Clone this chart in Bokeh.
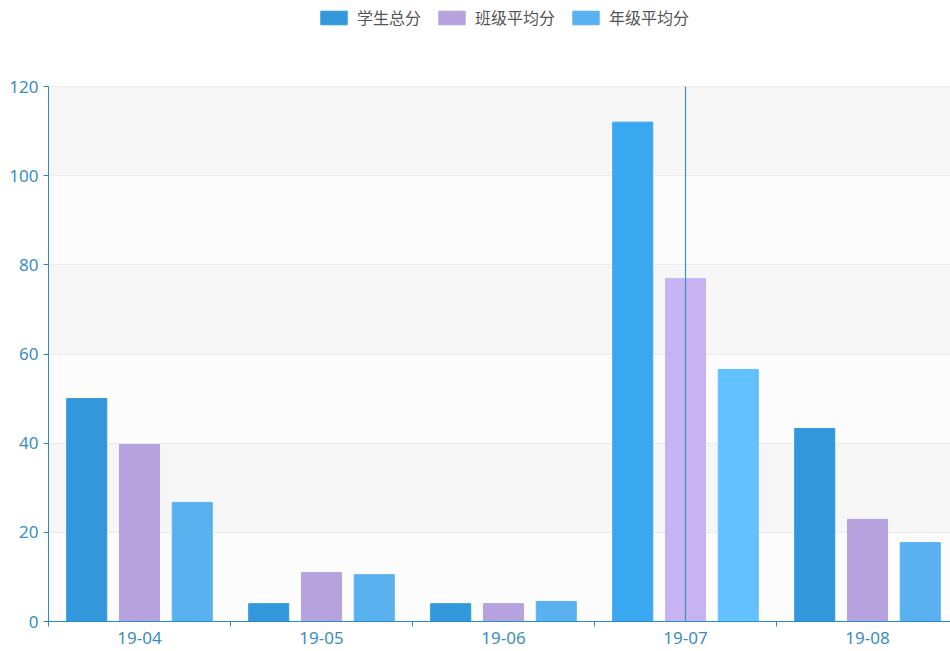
from bokeh.plotting import figure
from bokeh.models import (ColumnDataSource, Range1d, FixedTicker, Legend, LegendItem, Grid)
from bokeh.transform import dodge
from bokeh.embed import file_html
from bokeh.resources import INLINE

# ---- data ----
months = ["19-04", "19-05", "19-06", "19-07", "19-08"]
series_names = ["学生总分", "班级平均分", "年级平均分"]
student_total = [50, 4, 4, 112, 43.3]
class_avg = [39.7, 11, 4, 76.9, 22.9]
grade_avg = [26.7, 10.5, 4.5, 56.5, 17.7]
y_ticks = [0, 20, 40, 60, 80, 100, 120]
highlight_month = "19-07"

# ---- styles ----
base_colors = ["#3398DB", "#b6a2de", "#5ab1ef"]
hover_colors = ["#3aa8f0", "#c7b3f2", "#63c1ff"]
band_colors = ["#fcfcfc", "#f6f6f6"]
axis_color = "#2b8cc4"
pointer_color = "#3a8fc6"
label_color = "#3a8dc3"
cjk_font = "Noto Sans CJK SC"
num_font = "Noto Sans"

W, H = 950, 651
left, bottom, top_gap = 48, 30, 86
cat_px = 182
frame_h = H - bottom
plot_px = frame_h - top_gap
y_top = y_ticks[-1] * frame_h / plot_px
x_end = (W - left) / cat_px

xs = [i + 0.5 for i in range(len(months))]
data = dict(x=xs, m=months, s0=student_total, s1=class_avg, s2=grade_avg)
for k in range(3):
    data[f"c{k}"] = [hover_colors[k] if m == highlight_month else base_colors[k] for m in months]
src = ColumnDataSource(data)

p = figure(width=W, height=H, output_backend="svg", toolbar_location=None,
           x_range=Range1d(0, x_end), y_range=Range1d(0, y_top),
           min_border_left=left, min_border_right=0, min_border_top=0, min_border_bottom=bottom)
p.outline_line_color = None
p.background_fill_color = "white"
p.border_fill_color = "white"

# split area bands between consecutive y ticks (alternating colours)
band_src = ColumnDataSource(dict(
    b=y_ticks[:-1], t=y_ticks[1:],
    c=[band_colors[i % 2] for i in range(len(y_ticks) - 1)]))
p.quad(left=0, right=x_end, bottom="b", top="t", fill_color="c", line_color=None,
       source=band_src, level="underlay")

p.ygrid.grid_line_color = None
p.xgrid.grid_line_color = None
g_lines = Grid(dimension=1, ticker=FixedTicker(ticks=y_ticks), bounds=(0, x_end),
               grid_line_color="#ececec")
p.add_layout(g_lines, "center")

offsets = [-0.29, 0.0, 0.29]
renderers = []
for k, col in enumerate(["s0", "s1", "s2"]):
    r = p.vbar(x=dodge("x", offsets[k], range=p.x_range), top=col, width=0.22, bottom=0,
               source=src, fill_color=f"c{k}", line_color=f"c{k}")
    renderers.append(r)

# axis pointer line at the highlighted category
hx = xs[months.index(highlight_month)]
p.segment(x0=[hx], y0=[y_ticks[0]], x1=[hx], y1=[y_ticks[-1]], line_color=pointer_color, line_width=1.2)

# y axis
p.yaxis.ticker = FixedTicker(ticks=y_ticks)
p.yaxis.bounds = (y_ticks[0], y_ticks[-1])
p.yaxis.axis_line_color = axis_color
p.yaxis.major_tick_line_color = axis_color
p.yaxis.major_tick_out = 5
p.yaxis.major_tick_in = 0
p.yaxis.minor_tick_line_color = None
p.yaxis.major_label_text_color = label_color
p.yaxis.major_label_text_font = num_font
p.yaxis.major_label_text_font_size = "17px"
p.yaxis.major_label_standoff = 5

# x axis
p.xaxis.ticker = FixedTicker(ticks=xs, minor_ticks=list(range(len(months) + 1)))
p.xaxis.major_label_overrides = {x: m for x, m in zip(xs, months)}
p.xaxis.axis_line_color = axis_color
p.xaxis.major_tick_line_color = None
p.xaxis.minor_tick_line_color = axis_color
p.xaxis.minor_tick_out = 5
p.xaxis.minor_tick_in = 0
p.xaxis.major_label_text_color = label_color
p.xaxis.major_label_text_font = num_font
p.xaxis.major_label_text_font_size = "17px"
p.xaxis.major_label_standoff = 4

legend = Legend(items=[LegendItem(label=n, renderers=[r]) for n, r in zip(series_names, renderers)],
                orientation="horizontal", location=(269, frame_h - 29),
                glyph_width=33, glyph_height=17, label_standoff=7, spacing=14,
                padding=0, margin=0, border_line_color=None, background_fill_alpha=0,
                label_text_font=cjk_font, label_text_font_size="16px", label_text_color="#555555")
p.add_layout(legend, "center")

open("out.html", "w").write(file_html(p, INLINE))
